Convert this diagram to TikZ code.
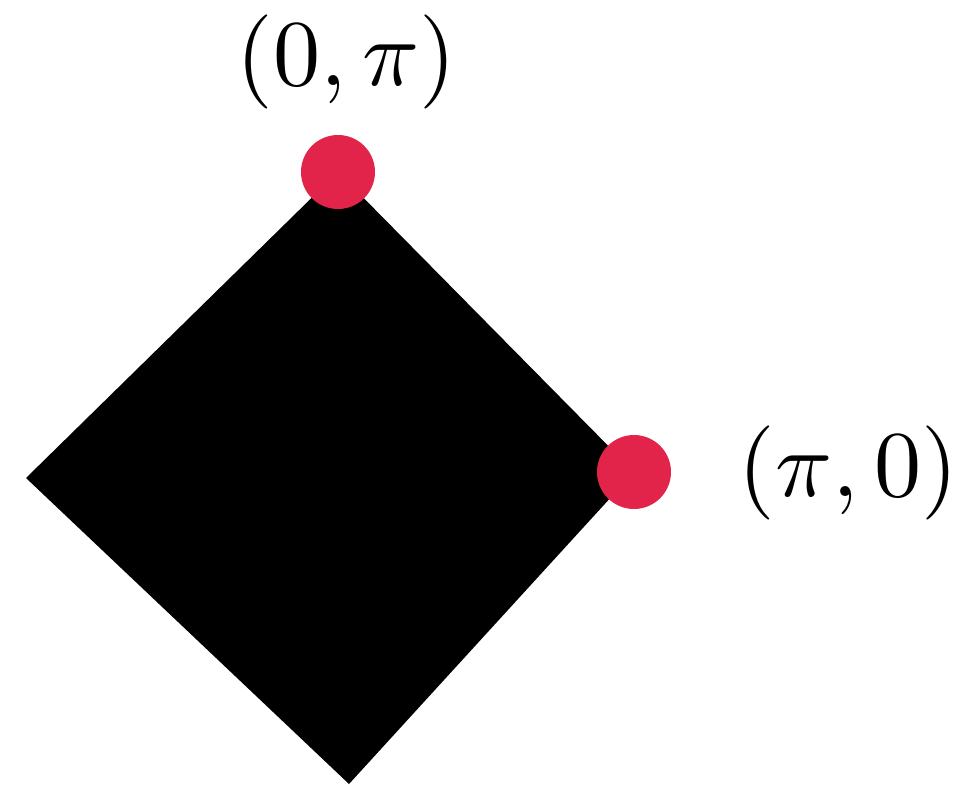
\documentclass[tikz,border=0pt]{standalone}
\usepackage{amsmath,amssymb}
\usepackage{tikz}
\usetikzlibrary{positioning,calc}
\definecolor{dotred}{RGB}{226,35,74}
\tikzset{
  region/.style={fill=black,draw=none},
  cornerpt/.style={circle,fill=dotred,draw=none,minimum size=7.4mm,inner sep=0pt},
  lblnode/.style={scale=2.68,inner sep=0pt},
}
\begin{document}
\begin{tikzpicture}
  \useasboundingbox (0,0) rectangle (9.58,7.84);
  % corners of the square
  \coordinate (top) at (3.38,6.12);
  \coordinate (rgt) at (6.34,3.12);
  \coordinate (bot) at (3.49,0);
  \coordinate (lft) at (0.26,3.06);
  \fill[region] (top) -- (rgt) -- (bot) -- (lft) -- cycle;
  % marked corners
  \node[cornerpt] (ptop) at (top) {};
  \node[cornerpt] (prgt) at (rgt) {};
  \node[lblnode] (ltop) at (3.465,7.225) {$(0,\pi)$};
  \node[lblnode] (lrgt) at (8.485,3.115) {$(\pi,0)$};
\end{tikzpicture}
\end{document}
